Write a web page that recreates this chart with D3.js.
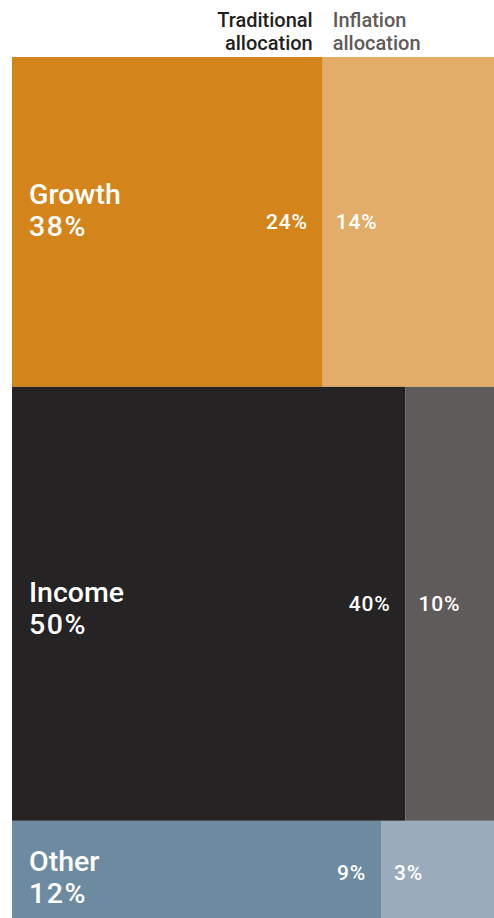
<!DOCTYPE html>
<html>
<head>
<meta charset="utf-8">
<script src="https://cdn.jsdelivr.net/npm/d3@7"></script>
<style>
  html, body { margin: 0; padding: 0; background: #fff; }
  svg { display: block; }
  text { font-family: Roboto, "Noto Sans", sans-serif; font-weight: 500; }
</style>
</head>
<body>
<svg id="chart" width="494" height="918"></svg>
<script>
// Allocation split per asset bucket
const categories = ["Growth", "Income", "Other"];
const traditional = [24, 40, 9];
const inflation = [14, 10, 3];
const headerTraditional = ["Traditional", "allocation"];
const headerInflation = ["Inflation", "allocation"];

const tradColors = ["#d3841a", "#252324", "#6d8ba0"];
const inflColors = ["#e2ad68", "#5f5b5a", "#9aabbb"];

const rows = categories.map((name, i) => ({
  name,
  trad: traditional[i],
  infl: inflation[i],
  total: traditional[i] + inflation[i],
  i
}));
let acc = 0;
rows.forEach(r => { r.start = acc; acc += r.total; r.end = acc; });

const svg = d3.select("#chart");

// Each row's height is proportional to its total share; widths split the row.
const y = d3.scaleLinear().domain([0, acc]).range([57, 925]);
const x = d3.scaleLinear().domain([0, 1]).range([12, 504]);

const row = svg.append("g").selectAll("g.row").data(rows).join("g").attr("class", "row");

row.append("rect")
  .attr("x", x(0))
  .attr("y", d => y(d.start))
  .attr("width", d => x(d.trad / d.total) - x(0))
  .attr("height", d => y(d.end) - y(d.start))
  .attr("fill", d => tradColors[d.i]);

row.append("rect")
  .attr("x", d => x(d.trad / d.total))
  .attr("y", d => y(d.start))
  .attr("width", d => x(1) - x(d.trad / d.total))
  .attr("height", d => y(d.end) - y(d.start))
  .attr("fill", d => inflColors[d.i]);

const mid = d => (y(d.start) + y(d.end)) / 2;
const nameShift = { Growth: -16 };
const nameY = d => mid(d) - 2 + (nameShift[d.name] || 0);

// Bucket name and total share
row.append("text")
  .attr("x", x(0) + 17)
  .attr("y", nameY)
  .attr("fill", "#fff")
  .attr("font-size", 28.5)
  .text(d => d.name);

row.append("text")
  .attr("x", x(0) + 17)
  .attr("y", d => nameY(d) + 32)
  .attr("fill", "#fff")
  .attr("font-size", 28.5)
  .attr("letter-spacing", 1.5)
  .text(d => d.total + "%");

// Segment values
row.append("text")
  .attr("x", d => x(d.trad / d.total) - 15)
  .attr("y", d => mid(d))
  .attr("dy", "0.36em")
  .attr("text-anchor", "end")
  .attr("fill", "#fff")
  .attr("font-size", 21)
  .attr("letter-spacing", 0.8)
  .text(d => d.trad + "%");

row.append("text")
  .attr("x", d => x(d.trad / d.total) + 13)
  .attr("y", d => mid(d))
  .attr("dy", "0.36em")
  .attr("fill", "#fff")
  .attr("font-size", 21)
  .attr("letter-spacing", 0.8)
  .text(d => d.infl + "%");

// Column headers aligned to the first row's split
const split0 = x(rows[0].trad / rows[0].total);
const hT = svg.append("text")
  .attr("y", 27)
  .attr("text-anchor", "end")
  .attr("fill", "#231f20")
  .attr("font-size", 20);
headerTraditional.forEach((t, i) => {
  hT.append("tspan").attr("x", split0 - 10).attr("dy", i ? 23 : 0).text(t);
});
const hI = svg.append("text")
  .attr("y", 27)
  .attr("fill", "#5f5b5a")
  .attr("font-size", 20);
headerInflation.forEach((t, i) => {
  hI.append("tspan").attr("x", split0 + 10).attr("dy", i ? 23 : 0).text(t);
});
</script>
</body>
</html>
